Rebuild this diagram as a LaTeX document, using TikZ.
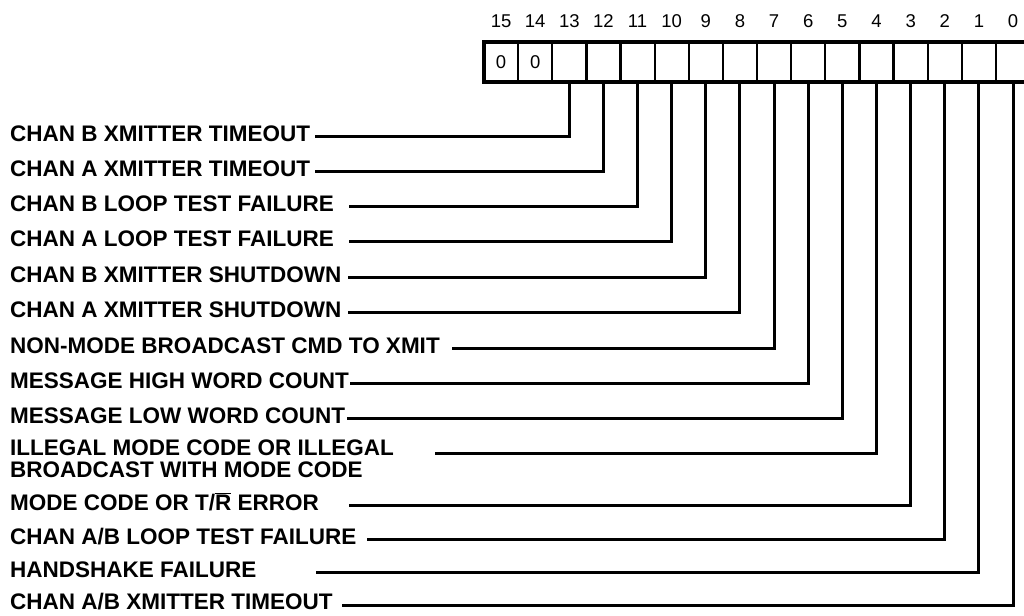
\documentclass[tikz,border=0pt]{standalone}
\usepackage{fontspec}
\setmainfont{Liberation Sans}
\usetikzlibrary{positioning}
\tikzset{
  bitcell/.style={draw, line width=2.2pt, minimum width=34.13pt, minimum height=40pt,
    inner sep=0pt, outer sep=0pt, font=\fontsize{18.5}{19}\selectfont},
  bitnum/.style={anchor=base, inner sep=0pt, font=\fontsize{18.5}{19}\selectfont},
  flaglabel/.style={anchor=base west, inner sep=0pt,
    font=\fontsize{22.5}{22}\selectfont\bfseries},
  leader/.style={line width=3pt},
}

\begin{document}
\begin{tikzpicture}[x=1pt, y=-1pt]
\useasboundingbox (0,0) rectangle (1024,615);

% Registro a 16 bit (bit 15 a sinistra)
\foreach \b in {0,...,15}{
  \pgfmathsetmacro{\xc}{501.07+(15-\b)*34.13}
  \node[bitnum] (n\b) at (\xc, 27.5) {\b};
  \node[bitcell] (b\b) at (\xc, 62) {\ifnum\b>13 0\fi};
}
\draw[line width=3.2pt] (b15.north west) rectangle (b0.south east);

% Etichette e linee di richiamo
\foreach \b/\y/\by/\xs/\txt in {
  13/136/141/315/{CHAN B XMITTER TIMEOUT},
  12/171/176/315/{CHAN A XMITTER TIMEOUT},
  11/206/211/349/{CHAN B LOOP TEST FAILURE},
  10/241/246/349/{CHAN A LOOP TEST FAILURE},
  9/277/282/348/{CHAN B XMITTER SHUTDOWN},
  8/312/317/348/{CHAN A XMITTER SHUTDOWN},
  7/348/353/452/{NON-MODE BROADCAST CMD TO XMIT},
  6/383/388/350/{MESSAGE HIGH WORD COUNT},
  5/418/423/347/{MESSAGE LOW WORD COUNT},
  4/453/455/435/{\vtop{\hbox{ILLEGAL MODE CODE OR ILLEGAL}\hbox{BROADCAST WITH MODE CODE}}},
  3/505/510/349/{MODE CODE OR T/$\overline{\hbox{R}}$ ERROR},
  2/539/544/367/{CHAN A/B LOOP TEST FAILURE},
  1/572/577/316/{HANDSHAKE FAILURE},
  0/605/609/342/{CHAN A/B XMITTER TIMEOUT}}{
  \node[flaglabel] (l\b) at (10, \by) {\txt};
  \coordinate (s\b) at (\xs, \y);
  \draw[leader] (s\b) -| (b\b.south);
}

\end{tikzpicture}
\end{document}
